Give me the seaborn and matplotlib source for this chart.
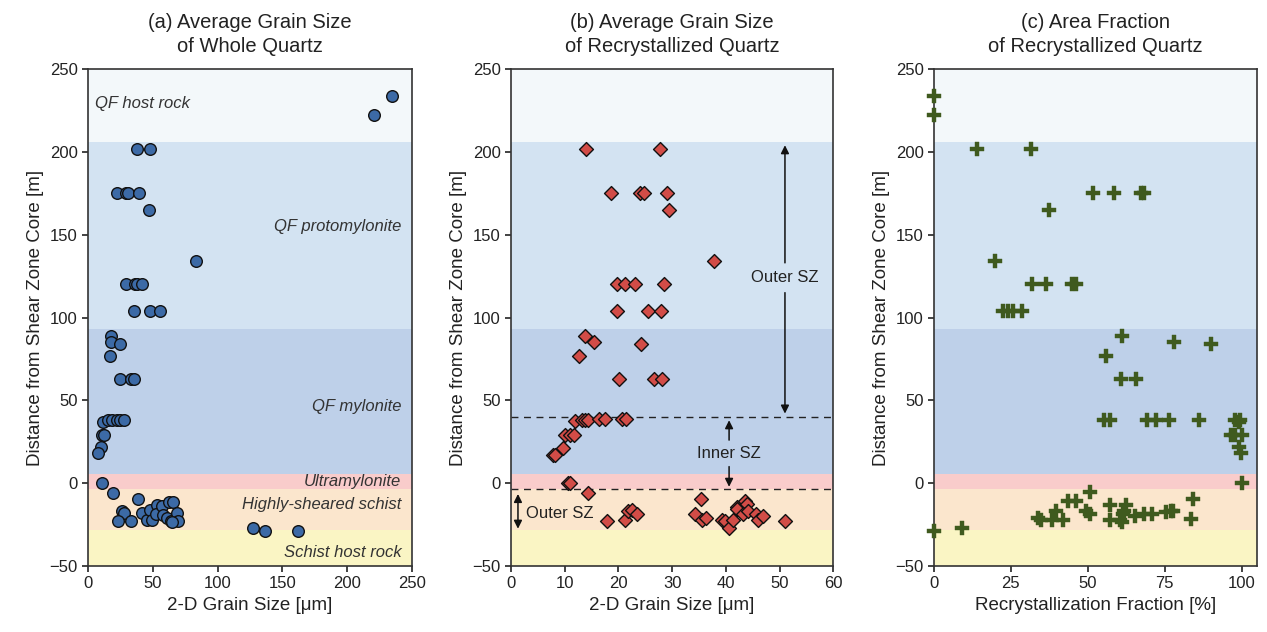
import matplotlib
matplotlib.use("Agg")
import matplotlib.pyplot as plt
import seaborn as sns
import pandas as pd

# ---------------- data ----------------
# Panel (a): whole quartz average grain size
a_depth = [234, 222, 202, 202, 175, 175, 175, 175, 165, 134,
           120, 120, 120, 120, 104, 104, 104, 89, 85, 84, 77,
           63, 63, 63, 37, 38, 38, 38, 38, 38, 29, 29, 22, 18, 0,
           -6, -9.5, -16.7, -18, -22.7, -22.7, -18, -22, -16, -22,
           -13.3, -18.3, -14, -19.3, -11.5, -11.5, -21.3, -22.7, -18, -22.7, -23.3,
           -27, -29, -29]
a_size = [235, 221, 37.5, 48, 22, 29.5, 31, 39, 47, 83,
          29, 36, 37.5, 42, 35.5, 48, 55.5, 17.5, 17.5, 25, 17,
          24.5, 33, 35.5, 11.8, 15.7, 18.3, 22, 24.7, 28, 10.5, 12.3, 9.8, 8, 10.5,
          19.5, 38.3, 26, 27.9, 23.4, 33.2, 41.4, 45.2, 47.8, 49.6,
          53, 52.2, 56.8, 58.1, 62.5, 65.8, 60.7, 64, 68.4, 69.2, 65,
          127, 136.5, 162]

# Panel (b): recrystallized quartz average grain size
b_depth = [202, 202, 175, 175, 175, 175, 165, 134,
           120, 120, 120, 120, 104, 104, 104, 89, 85, 84, 77,
           63, 63, 63, 37.4, 38, 38, 38, 38.5, 38.5, 38.5, 38.5,
           29, 29, 29, 21.3, 17.3, 17.3, 0, 0, -6.2,
           -23, -22.3, -17, -16.3, -18.3,
           -9.7, -18.3, -22, -21, -22, -23, -27, -22, -14.3, -15.7,
           -10.9, -12.3, -18.9, -16.9, -18.3, -22, -19.7, -23]
b_size = [14, 27.7, 18.6, 24, 24.8, 29, 29.5, 37.7,
          19.8, 21.3, 23, 28.5, 19.7, 25.5, 28, 13.8, 15.5, 24.2, 12.7,
          20.2, 26.6, 28.2, 11.9, 13.2, 13.8, 14.4, 16.4, 17.5, 20.6, 21.4,
          10.1, 10.9, 11.7, 9.6, 7.9, 8.2, 10.7, 11, 14.4,
          17.8, 21.2, 21.8, 22.6, 23.4,
          35.3, 34.3, 35.5, 36.3, 39.2, 39.8, 40.5, 41.3, 42, 42,
          43.6, 43.9, 43.1, 44.2, 45.7, 45.9, 47, 51.1]

# Panel (c): recrystallized area fraction
c_depth = [234, 222, 202, 202, 175, 175, 175, 175, 165, 134,
           120, 120, 120, 120, 104, 104, 104, 104, 89, 85, 84, 77,
           63, 63, 38, 38, 38, 38, 38, 38, 38, 38, 37,
           29, 29, 29, 22, 18, 0, -29, -27,
           -5.2, -9.3, -10.9, -10.9, -13.3, -13.3, -16.9, -16.9, -18.9,
           -16.5, -18.9, -19.7, -18.3, -18.3, -17.5, -16.5, -16.5,
           -21.3, -22, -22.3, -22.3, -22.3, -22.3, -23.3, -21.7]
c_frac = [0, 0, 14, 31.5, 51.7, 58.4, 67.4, 68.4, 37.4, 19.7,
          32, 36.5, 44.7, 46.3, 22.5, 25.7, 28.6, 24, 61, 78, 90, 56,
          60.7, 65.7, 55.2, 57.1, 69.2, 72.2, 76.5, 86.3, 98, 99.5, 99,
          96.5, 97.8, 100, 99.3, 99.8, 100, 0, 9,
          50.6, 84.1, 43.6, 46.3, 57.3, 62.5, 39.6, 49.5, 50.8,
          61.9, 61.4, 65.5, 68.4, 70.9, 75.5, 77.1, 77.8,
          33.8, 34.9, 38.2, 41.9, 57.1, 60.3, 61.2, 83.6]

# Lithological zones (bottom, top, colour, label)
zone_bottom = [206, 93, 5.5, -3.6, -28, -50]
zone_top = [250, 206, 93, 5.5, -3.6, -28]
zone_color = ["#F3F8FA", "#D3E3F2", "#BED0E9", "#F9CCCB", "#FBE6CD", "#FAF5C4"]
zone_label = ["QF host rock", "QF protomylonite", "QF mylonite",
              "Ultramylonite", "Highly-sheared schist", "Schist host rock"]
zone_label_y = [229, 155, 46.5, 1, -12.7, -42]

titles = ["(a) Average Grain Size\nof Whole Quartz",
          "(b) Average Grain Size\nof Recrystallized Quartz",
          "(c) Area Fraction\nof Recrystallized Quartz"]
xlabels = ["2-D Grain Size [μm]", "2-D Grain Size [μm]", "Recrystallization Fraction [%]"]
ylabel = "Distance from Shear Zone Core [m]"

# ---------------- style ----------------
sns.set_style("ticks")
plt.rcParams["font.family"] = ["Liberation Sans", "DejaVu Sans"]

fig = plt.figure(figsize=(12.67, 6.32), dpi=100)
ax_h = 0.7864
bottom = 0.1044
axes = [fig.add_axes([0.0695, bottom, 0.2555, ax_h]),
        fig.add_axes([0.4033, bottom, 0.2544, ax_h]),
        fig.add_axes([0.7372, bottom, 0.2549, ax_h])]

dfa = pd.DataFrame({"x": a_size, "y": a_depth})
dfb = pd.DataFrame({"x": b_size, "y": b_depth})
dfc = pd.DataFrame({"x": c_frac, "y": c_depth})

xlims = [(0, 250), (0, 60), (0, 105)]
xticks = [range(0, 251, 50), range(0, 61, 10), range(0, 101, 25)]

for ax in axes:
    for b0, t0, col in zip(zone_bottom, zone_top, zone_color):
        ax.axhspan(b0, t0, color=col, lw=0, zorder=0)

sns.scatterplot(data=dfa, x="x", y="y", ax=axes[0], marker="o", s=70,
                color="#3C6AA6", edgecolor="#111111", linewidth=1.0, zorder=3,
                clip_on=False)
sns.scatterplot(data=dfb, x="x", y="y", ax=axes[1], marker="D", s=50,
                color="#D24C47", edgecolor="#111111", linewidth=1.0, zorder=3,
                clip_on=False)
sns.scatterplot(data=dfc, x="x", y="y", ax=axes[2], marker="P", s=90,
                color="#3F5A1E", edgecolor="#3F5A1E", linewidth=0.3, zorder=3,
                clip_on=False)

for i, ax in enumerate(axes):
    ax.set_xlim(*xlims[i])
    ax.set_ylim(-50, 250)
    ax.set_xticks(list(xticks[i]))
    ax.set_yticks(range(-50, 251, 50))
    ax.tick_params(labelsize=12, direction="out", length=4, width=1.2, colors="#222222")
    ax.set_xlabel(xlabels[i], fontsize=13.5, color="#222222")
    ax.set_ylabel(ylabel, fontsize=13.5, color="#222222")
    ax.set_title(titles[i], fontsize=14.5, color="#222222", pad=12, linespacing=1.35)
    for sp in ax.spines.values():
        sp.set_visible(True)
        sp.set_color("#333333")
        sp.set_linewidth(1.2)
        sp.set_zorder(2.5)

# zone labels in panel (a)
axa = axes[0]
axa.text(5, zone_label_y[0], zone_label[0], style="italic", fontsize=12,
         ha="left", va="center", color="#333333")
for lab, yy in zip(zone_label[1:], zone_label_y[1:]):
    axa.text(242, yy, lab, style="italic", fontsize=12, ha="right", va="center",
             color="#333333")

# annotations in panel (b)
axb = axes[1]
axb.axhline(40, color="#222222", lw=1.0, ls=(0, (5, 4)), zorder=2)
axb.axhline(-3.8, color="#222222", lw=1.0, ls=(0, (5, 4)), zorder=2)
arrow = dict(arrowstyle="-|>", color="#111111", lw=1.1, mutation_scale=12,
             shrinkA=0, shrinkB=0)
axb.text(51, 124, "Outer SZ", fontsize=12, ha="center", va="center", color="#222222")
axb.annotate("", xy=(51, 204), xytext=(51, 133), arrowprops=arrow)
axb.annotate("", xy=(51, 42), xytext=(51, 115), arrowprops=arrow)
axb.text(40.6, 18, "Inner SZ", fontsize=12, ha="center", va="center", color="#222222")
axb.annotate("", xy=(40.6, 38), xytext=(40.6, 26), arrowprops=arrow)
axb.annotate("", xy=(40.6, -2.2), xytext=(40.6, 10), arrowprops=arrow)
darrow = dict(arrowstyle="<|-|>", color="#111111", lw=1.1, mutation_scale=12,
              shrinkA=0, shrinkB=0)
axb.annotate("", xy=(1.3, -6.5), xytext=(1.3, -27.5), arrowprops=darrow)
axb.text(2.8, -18.3, "Outer SZ", fontsize=12, ha="left", va="center", color="#222222")

fig.savefig("out.png", dpi=100)
